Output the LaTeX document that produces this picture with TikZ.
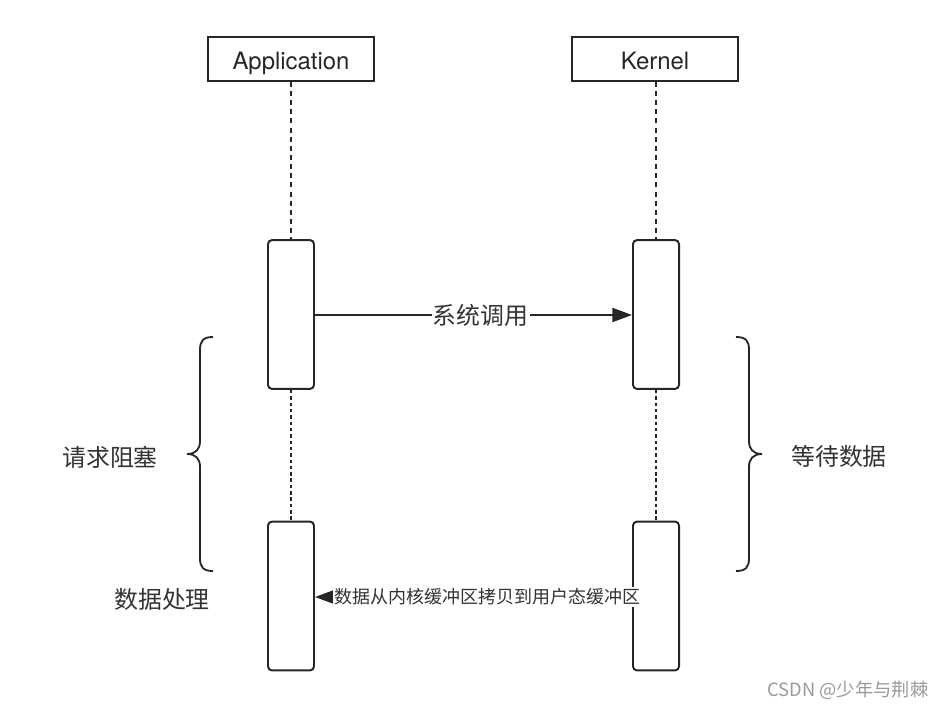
\documentclass[tikz,border=0pt]{standalone}
\usepackage{fontspec}
\setmainfont{TeX Gyre Heros}
\newfontfamily\cjk{Noto Sans CJK SC}
\usetikzlibrary{arrows.meta}

\begin{document}
\begin{tikzpicture}[x=0.025cm, y=-0.025cm,
	actor/.style={
	rectangle, minimum width=4.15cm, minimum height=1.1cm, inner sep=0pt,
	text height=14.6pt, text depth=0pt,
	line width=1.3pt, draw=black!85,
	font=\fontsize{17}{20}\selectfont, text=black!85},
	act/.style={
	rectangle, minimum width=1.15cm, minimum height=3.72cm, inner sep=0pt,
	rounded corners=0.1cm, line width=1.4pt, draw=black!85},
	life/.style={draw=black!85, line width=2.1pt, dash pattern=on 3.5pt off 3pt},
	gap/.style={draw=black!85, line width=1.3pt, dash pattern=on 2.5pt off 2pt},
	msg/.style={draw=black!85, line width=1.3pt, -{Triangle[length=14pt, width=10pt]}},
	lbl/.style={font=\cjk\fontsize{17}{20}\selectfont, text=black!80},
	small/.style={font=\cjk\fontsize{12.8}{15}\selectfont, text=black!80, fill=white, inner sep=1pt},
	brc/.style={draw=black!85, line width=1.3pt}]
	\useasboundingbox (0,0) rectangle (952,709);
	\node[actor] (app) at (291,59) {Application};
	\node[actor] (kernel) at (655,59) {Kernel};
	\node[act] (app1) at (291,314.5) {};
	\node[act] (app2) at (291,596) {};
	\node[act] (ker1) at (656,314.5) {};
	\node[act] (ker2) at (656,596) {};
	\draw[life] (app) -- (app1);
	\draw[life] (kernel.south -| ker1) -- (ker1);
	\draw[gap] (app1) -- (app2);
	\draw[gap] (ker1) -- (ker2);
	\draw[msg] (app1.east |- 0,315) -- node[lbl, pos=0.523, fill=white, inner sep=1pt] {系统调用} (ker1.west |- 0,315);
	\draw[msg] (ker2.west |- 0,597) -- node[small, pos=0.455] {数据从内核缓冲区拷贝到用户态缓冲区} (app2.east |- 0,597);
	\draw[brc] (213,337) .. controls (203,337) and (200,341) .. (200,350) -- (200,441)
		.. controls (200,449) and (196,454) .. (187,454) .. controls (196,454) and (200,459) .. (200,467)
		-- (200,558) .. controls (200,567) and (203,571) .. (213,571);
	\draw[brc] (736,337) .. controls (746,337) and (749,341) .. (749,350) -- (749,441)
		.. controls (749,449) and (753,454) .. (762,454) .. controls (753,454) and (749,459) .. (749,467)
		-- (749,558) .. controls (749,567) and (746,571) .. (736,571);
	\node[lbl] (block) at (110,457) {请求阻塞};
	\node[lbl] (proc) at (162,599) {数据处理};
	\node[lbl] (wait) at (839,456) {等待数据};
	\node[font=\cjk\fontsize{13}{15}\selectfont, text=black!40] (mark) at (848,690) {CSDN @少年与荆棘};
\end{tikzpicture}
\end{document}
